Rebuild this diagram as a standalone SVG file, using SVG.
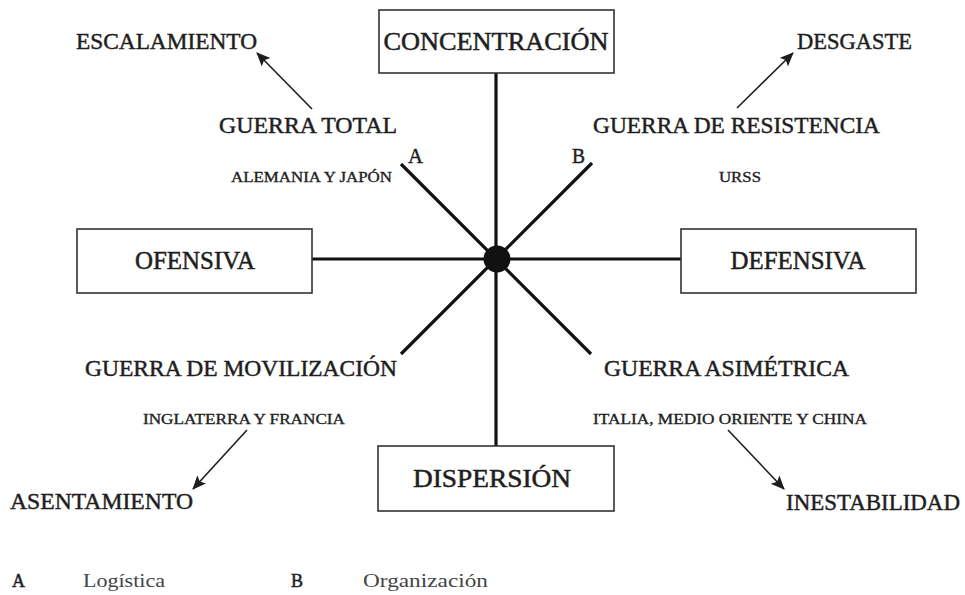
<svg xmlns="http://www.w3.org/2000/svg" width="965" height="595" viewBox="0 0 965 595" font-family="'Liberation Serif', 'Times New Roman', Times, serif">
<style>
text{font-family:'Liberation Serif','Times New Roman',Times,serif;fill:#1e1e1e;}
.t{font-size:25px;stroke:#1e1e1e;stroke-width:0.5px;}
.m{font-size:23px;stroke:#1e1e1e;stroke-width:0.45px;}
.s{font-size:15px;stroke:#1e1e1e;stroke-width:0.35px;}
.lg{font-size:18px;fill:#444;}
.lk{font-size:18px;stroke:#1e1e1e;stroke-width:0.5px;}
.box{fill:#fff;stroke:#333;stroke-width:1.6;}
.spoke{stroke:#111;stroke-width:3.2;fill:none;}
.arr{stroke:#1e1e1e;stroke-width:1.6;fill:none;marker-end:url(#ah);}
</style>
<defs>
<marker id="ah" markerUnits="userSpaceOnUse" markerWidth="16" markerHeight="14" refX="13" refY="6" orient="auto">
<path d="M0,0 L14,6 L0,12 L3,6 z" fill="#1e1e1e"/>
</marker>
</defs>
<g id="connectors">
<line class="spoke" x1="496" y1="73" x2="496" y2="446"/>
<line class="spoke" x1="312" y1="259" x2="681" y2="259"/>
<line class="spoke" x1="401" y1="164" x2="591" y2="354"/>
<line class="spoke" x1="592" y1="163" x2="401" y2="354"/>
<circle cx="497" cy="259" r="13.5" fill="#111"/>
<line class="arr" x1="312" y1="109" x2="257" y2="53"/>
<line class="arr" x1="737" y1="108" x2="793" y2="53"/>
<line class="arr" x1="247" y1="430" x2="193" y2="489"/>
<line class="arr" x1="728" y1="430" x2="784" y2="489"/>
</g>
<g id="concentracion">
<rect class="box" x="379" y="10" width="235" height="63"/>
<text class="t" x="496" y="50" text-anchor="middle" textLength="225" lengthAdjust="spacingAndGlyphs">CONCENTRACIÓN</text>
</g>
<g id="ofensiva">
<rect class="box" x="77" y="229" width="235" height="64"/>
<text class="t" x="195" y="269" text-anchor="middle" textLength="120" lengthAdjust="spacingAndGlyphs">OFENSIVA</text>
</g>
<g id="defensiva">
<rect class="box" x="681" y="229" width="235" height="64"/>
<text class="t" x="798" y="269" text-anchor="middle" textLength="135" lengthAdjust="spacingAndGlyphs">DEFENSIVA</text>
</g>
<g id="dispersion">
<rect class="box" x="378" y="446" width="236" height="65"/>
<text class="t" x="492" y="487" text-anchor="middle" textLength="158" lengthAdjust="spacingAndGlyphs">DISPERSIÓN</text>
</g>
<g id="escalamiento"><text class="m" x="76" y="49" textLength="181" lengthAdjust="spacingAndGlyphs">ESCALAMIENTO</text></g>
<g id="desgaste"><text class="m" x="797" y="49" textLength="115" lengthAdjust="spacingAndGlyphs">DESGASTE</text></g>
<g id="guerra-total">
<text class="m" x="219" y="133" textLength="178" lengthAdjust="spacingAndGlyphs">GUERRA TOTAL</text>
<text class="s" x="231" y="182" textLength="161" lengthAdjust="spacingAndGlyphs">ALEMANIA Y JAPÓN</text>
</g>
<g id="guerra-resistencia">
<text class="m" x="593" y="133" textLength="287" lengthAdjust="spacingAndGlyphs">GUERRA DE RESISTENCIA</text>
<text class="s" x="719" y="182" textLength="42" lengthAdjust="spacingAndGlyphs">URSS</text>
</g>
<g id="label-a"><text class="m" x="408" y="163" style="font-size:21px" textLength="15" lengthAdjust="spacingAndGlyphs">A</text></g>
<g id="label-b"><text class="m" x="572" y="163" style="font-size:21px" textLength="13" lengthAdjust="spacingAndGlyphs">B</text></g>
<g id="guerra-movilizacion">
<text class="m" x="85" y="376" textLength="312" lengthAdjust="spacingAndGlyphs">GUERRA DE MOVILIZACIÓN</text>
<text class="s" x="143" y="424" textLength="202" lengthAdjust="spacingAndGlyphs">INGLATERRA Y FRANCIA</text>
</g>
<g id="guerra-asimetrica">
<text class="m" x="604" y="376" textLength="245" lengthAdjust="spacingAndGlyphs">GUERRA ASIMÉTRICA</text>
<text class="s" x="593" y="424" textLength="274" lengthAdjust="spacingAndGlyphs">ITALIA, MEDIO ORIENTE Y CHINA</text>
</g>
<g id="asentamiento"><text class="m" x="10" y="509" textLength="183" lengthAdjust="spacingAndGlyphs">ASENTAMIENTO</text></g>
<g id="inestabilidad"><text class="m" x="786" y="510" textLength="174" lengthAdjust="spacingAndGlyphs">INESTABILIDAD</text></g>
<g id="legend">
<text class="lk" x="12" y="587">A</text>
<text class="lg" x="83" y="587" textLength="82" lengthAdjust="spacingAndGlyphs">Logística</text>
<text class="lk" x="291" y="587">B</text>
<text class="lg" x="363" y="587" textLength="125" lengthAdjust="spacingAndGlyphs">Organización</text>
</g>
</svg>
